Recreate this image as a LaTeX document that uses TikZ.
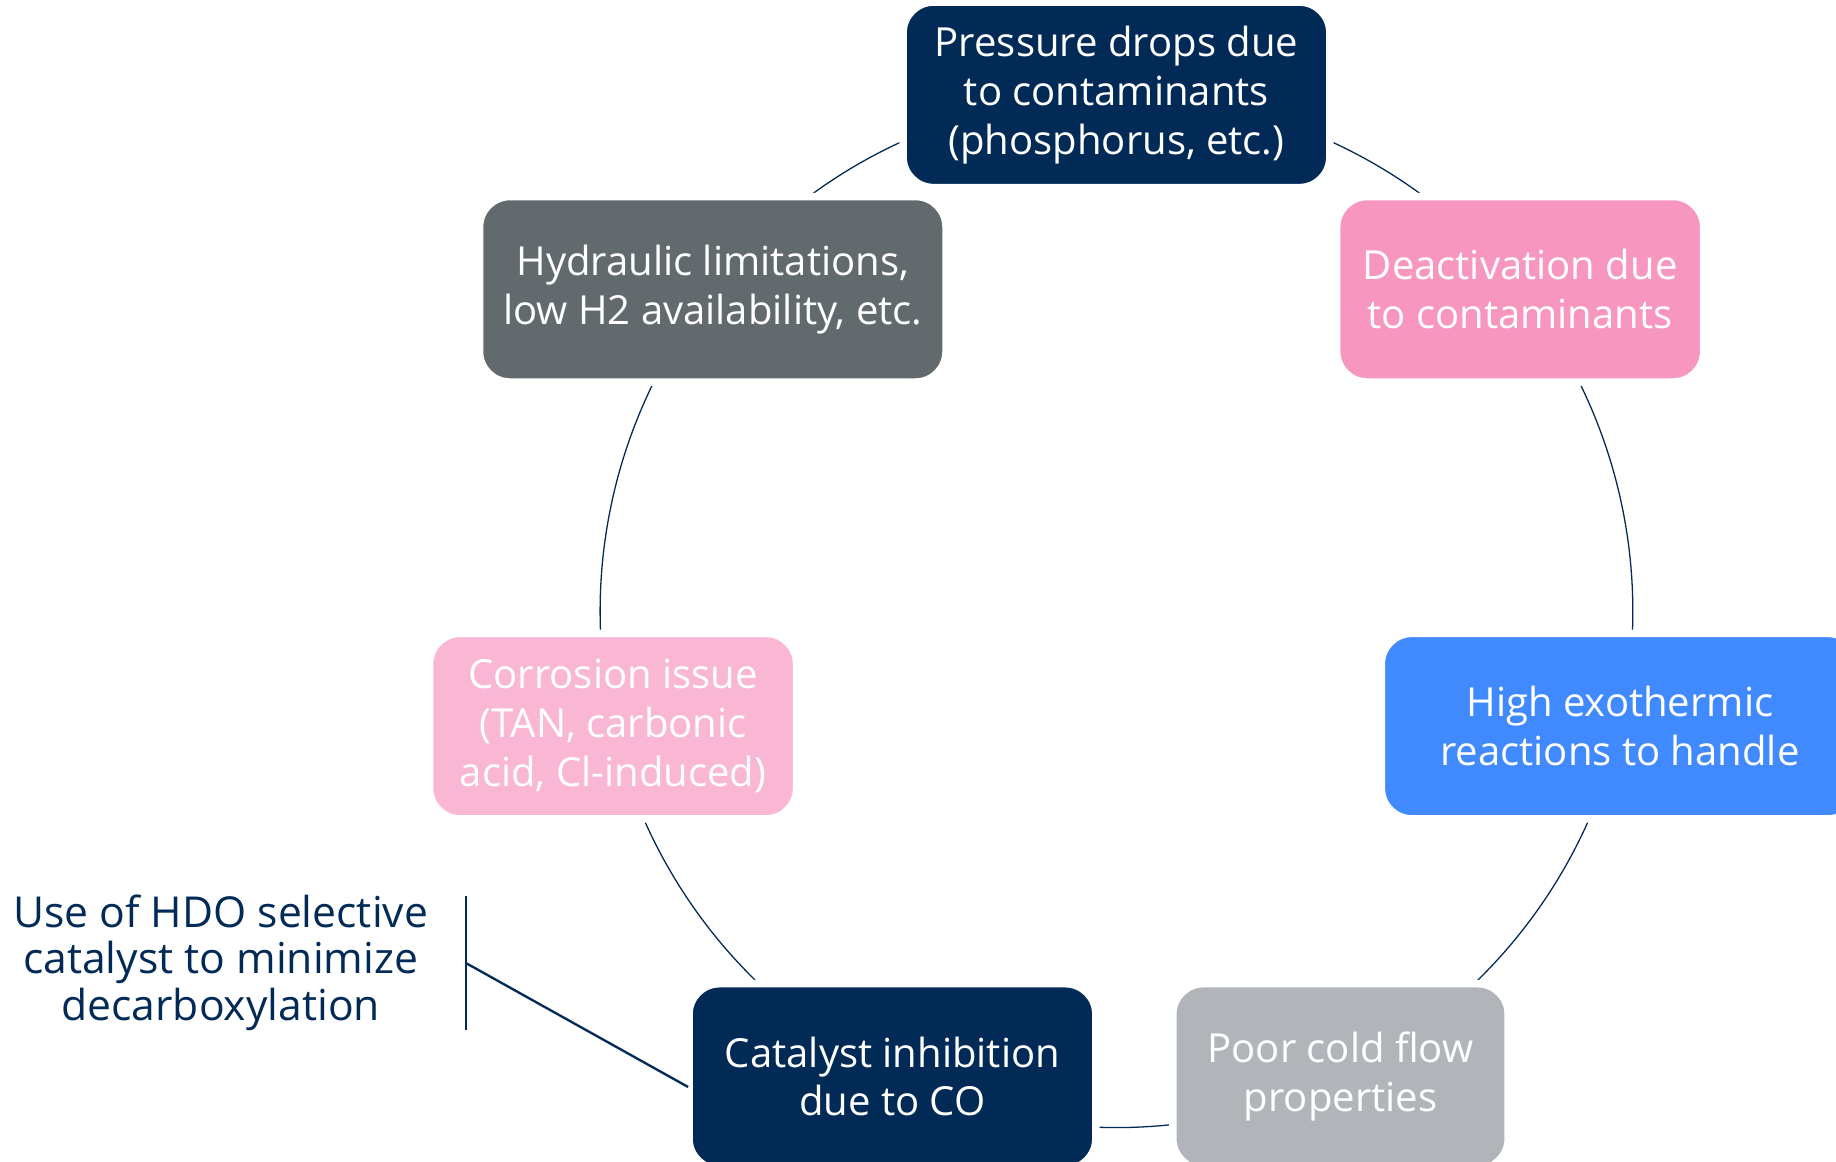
\documentclass[tikz,border=0pt]{standalone}
\usepackage{fontspec}
\setmainfont{Open Sans}
\usetikzlibrary{calc,backgrounds}
\definecolor{navy}{HTML}{022A57}
\definecolor{pinkA}{HTML}{F797C0}
\definecolor{pinkB}{HTML}{FAB7D4}
\definecolor{grayA}{HTML}{636A6E}
\definecolor{grayB}{HTML}{B1B5BA}
\definecolor{blueA}{HTML}{4189FF}
\begin{document}
\begin{tikzpicture}[x=0.5pt,y=-0.5pt,
  box/.style={rounded corners=13pt, draw=white, line width=3.2pt, text=white,
    align=center, inner sep=0pt, minimum height=79.2pt,
    font=\fontsize{17.1}{20.9}\selectfont},
  ring/.style={draw=navy, line width=0.55pt},
  note/.style={text=navy, align=center, inner sep=0pt, font=\fontsize{18.2}{19.8}\selectfont},
  link/.style={draw=navy, line width=1pt}]
\useasboundingbox (0,0) rectangle (1568,992);
\coordinate (ctr) at (953.5,522);
\def\R{220.5pt}
\node[box, fill=navy,  minimum width=182.2pt] (n0) at ([shift={(90:\R)}]ctr) {Pressure drops due\\to contaminants\\(phosphorus, etc.)};
\node[box, fill=pinkA, minimum width=156.7pt] (n1) at ([shift={(38.5714:\R)}]ctr) {Deactivation due\\to contaminants};
\node[box, fill=blueA, minimum width=203.7pt] (n2) at ([shift={(-12.8571:\R)}]ctr) {High exothermic\\reactions to handle};
\node[box, fill=grayB, minimum width=143.2pt] (n3) at ([shift={(-64.2857:\R)}]ctr) {Poor cold flow\\properties};
\node[box, fill=navy,  minimum width=173.7pt] (n4) at ([shift={(-115.7143:\R)}]ctr) {Catalyst inhibition\\due to CO};
\node[box, fill=pinkB, minimum width=156.7pt] (n5) at ([shift={(-167.1429:\R)}]ctr) {Corrosion issue\\(TAN, carbonic\\acid, Cl-induced)};
\node[box, fill=grayA, minimum width=199.2pt] (n6) at ([shift={(141.4286:\R)}]ctr) {Hydraulic limitations,\\low H2 availability, etc.};
\begin{scope}[on background layer]
\foreach \i in {0,...,6}
  \draw[ring] (n\i.center) arc[start angle={90-\i*51.42857}, end angle={90-(\i+1)*51.42857}, radius=\R];
\end{scope}
\node[note] (hdo) at (188.5,822) {Use of HDO selective\\catalyst to minimize\\decarboxylation};
\coordinate (bt) at (398,765);
\coordinate (bb) at (398,880);
\coordinate (bm) at ($(bt)!0.5!(bb)$);
\draw[link, line width=0.9pt] (bt) -- (bb);
\draw[link] (bm) -- ([xshift=1.2pt,yshift=-4.5pt]n4.west);
\end{tikzpicture}
\end{document}
